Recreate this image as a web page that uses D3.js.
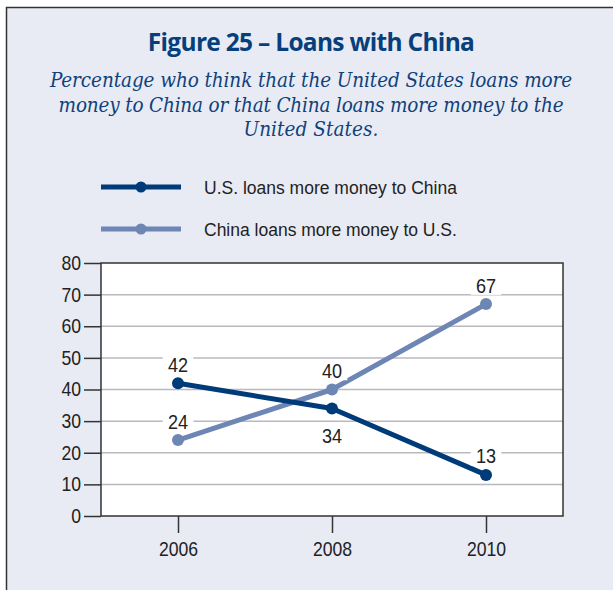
<!DOCTYPE html>
<html><head><meta charset="utf-8">
<script src="https://cdn.jsdelivr.net/npm/d3@7"></script>
<style>
html,body{margin:0;padding:0;background:#fff;}
svg{display:block;}
</style></head>
<body>
<svg id="chart" width="613" height="590"></svg>
<script>
const years = [2006, 2008, 2010];
const usLoans = [42, 34, 13];
const chinaLoans = [24, 40, 67];
const yTicks = [0, 10, 20, 30, 40, 50, 60, 70, 80];
const seriesNames = ["U.S. loans more money to China", "China loans more money to U.S."];
const seriesColors = ["#003b79", "#6e86b4"];
const labelSide = [[-1, 1, -1], [-1, -1, -1]];

(function () {
const svg = d3.select("#chart");
const sans = "'Liberation Sans',Arial,sans-serif";
const SX = 0.88;

svg.append("rect").attr("x", 6.5).attr("y", 7.5).attr("width", 640).attr("height", 620)
  .attr("fill", "#e8ebf3").attr("stroke", "#333").attr("stroke-width", 1.5);

svg.append("text").attr("x", 311).attr("y", 51).attr("text-anchor", "middle")
  .attr("font-family", "'Open Sans','Noto Sans',sans-serif").attr("font-weight", "bold")
  .attr("font-size", 24.5).attr("fill", "#063f7c").attr("letter-spacing", -0.7)
  .text("Figure 25 – Loans with China");

const sub = ["Percentage who think that the United States loans more",
  "money to China or that China loans more money to the",
  "United States."];
const subW = [522, 505, 135];
sub.forEach((s, i) => {
  const t = svg.append("text").attr("x", 311).attr("y", 87 + i * 24.5)
    .attr("text-anchor", "middle").attr("font-family", "'DejaVu Serif Condensed','DejaVu Serif',serif")
    .attr("font-style", "italic").attr("font-size", 20.5).attr("fill", "#0f417c")
    .text(s);
  const w = t.node().getComputedTextLength();
  const n = s.length;
  t.attr("letter-spacing", ((subW[i] - w) / n).toFixed(2));
});

seriesNames.forEach((n, i) => {
  const yy = 187 + i * 42;
  svg.append("line").attr("x1", 101).attr("x2", 181).attr("y1", yy).attr("y2", yy)
    .attr("stroke", seriesColors[i]).attr("stroke-width", 5);
  svg.append("circle").attr("cx", 141).attr("cy", yy).attr("r", 5.5).attr("fill", seriesColors[i]);
  svg.append("text").attr("x", 204).attr("y", yy + 7).attr("font-family", sans)
    .attr("font-size", 17.5).attr("fill", "#222").text(n);
});

const pL = 101, pR = 563, pT = 263, pB = 516;
const x = d3.scaleLinear().domain([2005, 2011]).range([pL, pR]);
const y = d3.scaleLinear().domain([0, 80]).range([pB, pT]);

svg.append("rect").attr("x", pL).attr("y", pT).attr("width", pR - pL).attr("height", pB - pT)
  .attr("fill", "#fff");

svg.append("g").selectAll("line").data(yTicks.filter(t => t > 0 && t < 80)).join("line")
  .attr("x1", pL).attr("x2", pR).attr("y1", d => y(d)).attr("y2", d => y(d))
  .attr("stroke", "#b9b9c0").attr("stroke-width", 1.5);

svg.append("rect").attr("x", pL).attr("y", pT).attr("width", pR - pL).attr("height", pB - pT)
  .attr("fill", "none").attr("stroke", "#333").attr("stroke-width", 1.5);

const yAxis = svg.append("g").attr("transform", `translate(${pL},0)`)
  .call(d3.axisLeft(y).tickValues(yTicks).tickSize(17).tickPadding(3).tickFormat(d3.format("d")));
yAxis.select(".domain").remove();
yAxis.selectAll("line").attr("stroke", "#333").attr("stroke-width", 1.5);
yAxis.selectAll("text").attr("font-family", sans).attr("font-size", 20).attr("fill", "#222")
  .attr("x", -20 / SX).attr("transform", `scale(${SX},1)`);

const xAxis = svg.append("g").attr("transform", `translate(0,${pB})`)
  .call(d3.axisBottom(x).tickValues(years).tickSize(17).tickPadding(9).tickFormat(d3.format("d")));
xAxis.select(".domain").remove();
xAxis.selectAll("line").attr("stroke", "#333").attr("stroke-width", 1.5);
xAxis.selectAll("text").attr("font-family", sans).attr("font-size", 20).attr("fill", "#222")
  .attr("transform", `scale(${SX},1)`);

const series = [usLoans, chinaLoans];
const line = d3.line().x((d, i) => x(years[i])).y(d => y(d));
[1, 0].forEach(si => {
  svg.append("path").datum(series[si]).attr("d", line).attr("fill", "none")
    .attr("stroke", seriesColors[si]).attr("stroke-width", 5).attr("stroke-linejoin", "round");
  svg.append("g").selectAll("circle").data(series[si]).join("circle")
    .attr("cx", (d, i) => x(years[i])).attr("cy", d => y(d)).attr("r", 6).attr("fill", seriesColors[si]);
});

series.forEach((s, si) => {
  s.forEach((v, i) => {
    const side = labelSide[si][i];
    const base = y(v) + (side < 0 ? -11.5 : 35);
    const g = svg.append("g").attr("transform", `translate(${x(years[i])},${base}) scale(${SX},1)`);
    const t = g.append("text").attr("x", 0).attr("y", 0).attr("text-anchor", "middle")
      .attr("font-family", sans).attr("font-size", 20.5).attr("fill", "#222").text(v);
    const bb = t.node().getBBox();
    g.insert("rect", "text").attr("x", bb.x - 6).attr("y", bb.y + 2).attr("width", bb.width + 12)
      .attr("height", bb.height - 4).attr("fill", "#fff");
  });
});
})();
</script>
</body></html>
